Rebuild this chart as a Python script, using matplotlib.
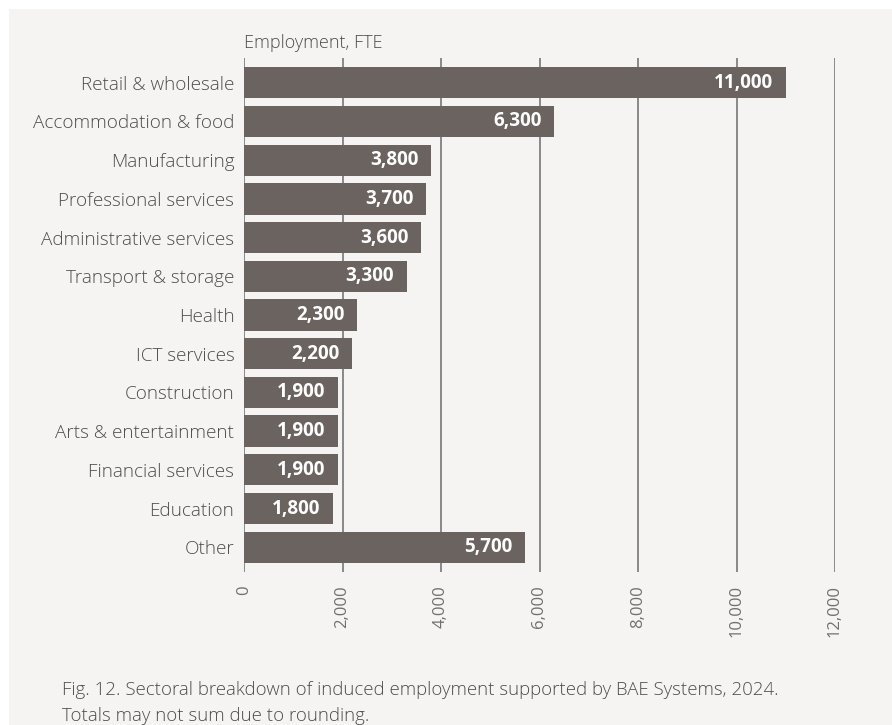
import matplotlib
matplotlib.use('Agg')
import matplotlib.pyplot as plt
from matplotlib.patches import Rectangle

sectors = ['Retail & wholesale', 'Accommodation & food', 'Manufacturing', 'Professional services',
           'Administrative services', 'Transport & storage', 'Health', 'ICT services', 'Construction',
           'Arts & entertainment', 'Financial services', 'Education', 'Other']
employment = [11000, 6300, 3800, 3700, 3600, 3300, 2300, 2200, 1900, 1900, 1900, 1800, 5700]
ticks = [0, 2000, 4000, 6000, 8000, 10000, 12000]

bg = '#f5f4f2'
bar_col = '#6b6360'
txt = '#4d4d4d'
plt.rcParams['font.family'] = ['Open Sans', 'DejaVu Sans']

fig = plt.figure(figsize=(8.92, 7.25), dpi=100)
fig.patch.set_facecolor('white')
fig.add_artist(Rectangle((9 / 892, 0), 1, 1 - 9 / 725, transform=fig.transFigure,
                         facecolor=bg, edgecolor='none', zorder=-10))

ax = fig.add_axes([244 / 892, 1 - 572 / 725, (835 - 244) / 892, (572 - 58) / 725])
ax.set_facecolor(bg)
ax.patch.set_alpha(0)

y = list(range(len(sectors)))
ax.barh(y, employment, height=0.81, color=bar_col, zorder=3)
for yi, v in zip(y, employment):
    ax.annotate(f'{v:,}', (v, yi), xytext=(-9, 0), textcoords='offset points',
                ha='right', va='center', color='white', fontsize=13.6, fontweight='bold', zorder=4)

ax.set_xlim(0, 12000)
ax.set_ylim(12.64, -0.64)
ax.set_xticks(ticks)
ax.set_xticklabels([f'{t:,}' for t in ticks], rotation=90, color='#707070', fontsize=12)
ax.set_yticks(y)
ax.set_yticklabels(sectors, color=txt, fontsize=13.6, fontweight='light')
ax.tick_params(axis='y', length=0, pad=7)
ax.tick_params(axis='x', length=0, pad=9.5)
for t in ticks:
    ax.axvline(t, color='#777777', lw=1.2, zorder=1)
for s in ax.spines.values():
    s.set_visible(False)

fig.text(244 / 892, 1 - 43 / 725, 'Employment, FTE', color=txt, fontsize=13, fontweight='light',
         va='center', ha='left')
fig.text(62 / 892, 1 - 690 / 725, 'Fig. 12. Sectoral breakdown of induced employment supported by BAE Systems, 2024.',
         color=txt, fontsize=13.4, fontweight='light', va='center', ha='left')
fig.text(62 / 892, 1 - 716 / 725, 'Totals may not sum due to rounding.',
         color=txt, fontsize=13.4, fontweight='light', va='center', ha='left')

fig.savefig('out.png', dpi=100, facecolor=fig.get_facecolor())
